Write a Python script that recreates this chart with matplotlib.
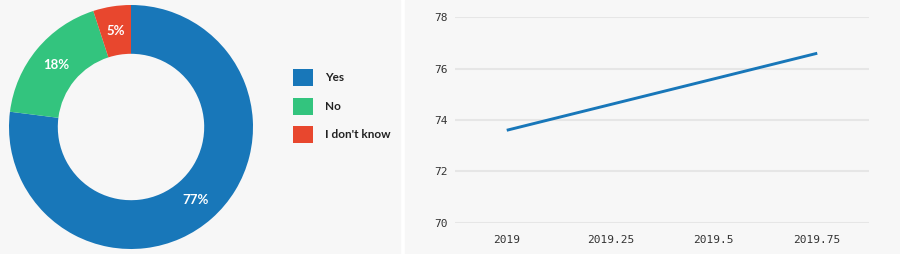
import matplotlib
matplotlib.use("Agg")
import matplotlib.pyplot as plt
from matplotlib.patches import Rectangle

# donut data
answers = ["Yes", "No", "I don't know"]
shares = [77, 18, 5]
slice_colors = ["#1877b9", "#33c47e", "#e8472e"]

# line data
years = [2019, 2019.75]
values = [73.6, 76.6]
x_ticks = [2019, 2019.25, 2019.5, 2019.75]
x_tick_labels = ["2019", "2019.25", "2019.5", "2019.75"]
y_ticks = [70, 72, 74, 76, 78]

W, H = 900, 254
fig = plt.figure(figsize=(W / 100, H / 100), dpi=100, facecolor="white")

# panel backgrounds
bg = "#f7f7f7"
fig.add_artist(Rectangle((0, 0), 400 / W, 1, transform=fig.transFigure, color=bg, zorder=0))
fig.add_artist(Rectangle((405 / W, 0), 495 / W, 1, transform=fig.transFigure, color=bg, zorder=0))

# ---- donut ----
ax1 = fig.add_axes([0, 0, 400 / W, 1])
ax1.set_facecolor("none")
r = 122
wedges, _, pcts = ax1.pie(
    shares, colors=slice_colors, startangle=90, counterclock=False,
    radius=1, wedgeprops=dict(width=0.4), autopct="%d%%", pctdistance=0.8,
    textprops=dict(color="white", fontweight="bold", family="Lato", fontsize=9.5),
)
ax1.set_xlim(-131 / r, (400 - 131) / r)
ax1.set_ylim(-127 / r, 127 / r)
ax1.set_aspect("equal")
ax1.axis("off")

fs = 8.5
px = fs / 0.72
ax1.legend(
    wedges, answers, loc="upper left", bbox_to_anchor=(293 / W, 1 - 69 / H),
    bbox_transform=fig.transFigure, frameon=False, borderpad=0, borderaxespad=0,
    handlelength=20 / px, handleheight=1.84, labelspacing=11.5 / px,
    handletextpad=12 / px, prop=dict(family="Lato", weight="bold", size=fs),
    labelcolor="#222222",
)

# ---- line ----
ax2 = fig.add_axes([455 / W, (H - 222.7) / H, (869 - 455) / W, (222.7 - 17.3) / H])
ax2.set_facecolor("none")
ax2.plot(years, values, color="#1877b9", lw=2.1, solid_capstyle="butt")
ax2.set_xlim(2018.875, 2019.875)
ax2.set_ylim(70, 78)
ax2.set_xticks(x_ticks, x_tick_labels)
ax2.set_yticks(y_ticks)
ax2.grid(axis="y", color="#e6e6e6", lw=1.5)
ax2.set_axisbelow(True)
for s in ax2.spines.values():
    s.set_visible(False)
ax2.tick_params(length=0, labelsize=8, labelcolor="#333333")
ax2.tick_params(axis="y", pad=5)
ax2.tick_params(axis="x", pad=9)
for lab in ax2.get_xticklabels() + ax2.get_yticklabels():
    lab.set_family("DejaVu Sans Mono")

fig.savefig("out.png", dpi=100, facecolor="white")
